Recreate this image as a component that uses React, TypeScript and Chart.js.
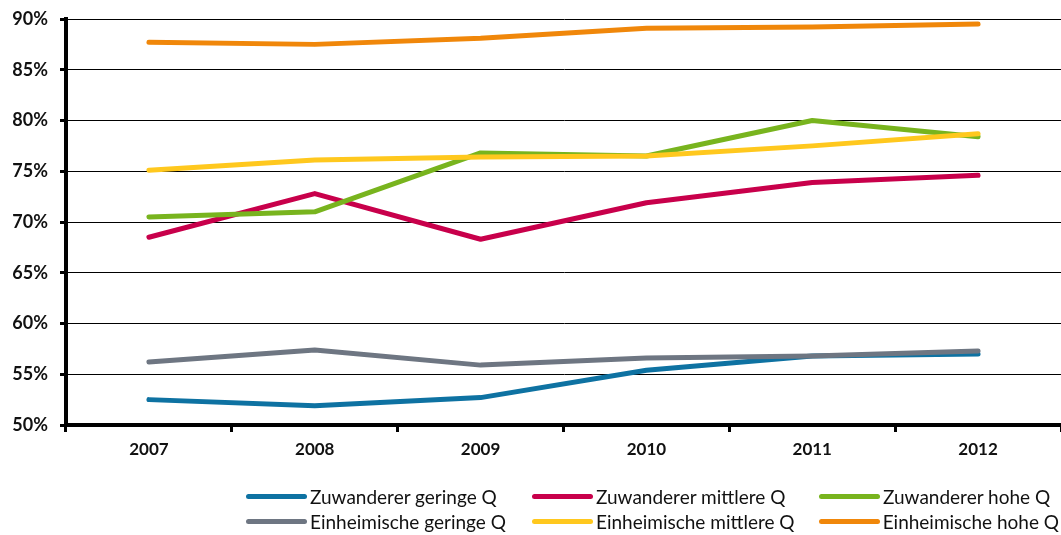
import React, { useEffect, useRef } from "react";
import { Chart, registerables } from "chart.js";

Chart.register(...registerables);

const categories = ["2007", "2008", "2009", "2010", "2011", "2012"];
const seriesNames = [
  "Zuwanderer geringe Q",
  "Zuwanderer mittlere Q",
  "Zuwanderer hohe Q",
  "Einheimische geringe Q",
  "Einheimische mittlere Q",
  "Einheimische hohe Q",
];
const zuwGering = [52.5, 51.9, 52.7, 55.4, 56.8, 57.0];
const zuwMittel = [68.5, 72.8, 68.3, 71.9, 73.9, 74.6];
const zuwHoch = [70.5, 71.0, 76.8, 76.5, 80.0, 78.4];
const einGering = [56.2, 57.4, 55.9, 56.6, 56.8, 57.3];
const einMittel = [75.1, 76.1, 76.4, 76.5, 77.5, 78.7];
const einHoch = [87.7, 87.5, 88.1, 89.1, 89.2, 89.5];
const seriesValues = [zuwGering, zuwMittel, zuwHoch, einGering, einMittel, einHoch];
const seriesColors = ["#0e72a2", "#c8004b", "#78b41e", "#6e7682", "#ffc81e", "#f0870a"];
const yTicks = [50, 55, 60, 65, 70, 75, 80, 85, 90];

const FONT = "Lato, 'Open Sans', sans-serif";

export default function App() {
  const canvasRef = useRef<HTMLCanvasElement | null>(null);

  useEffect(() => {
    document.body.style.margin = "0";
    const canvas = canvasRef.current;
    if (!canvas) return;
    const chart = new Chart(canvas, {
      type: "line",
      data: {
        labels: categories,
        datasets: seriesNames.map((name, i) => ({
          label: name,
          data: seriesValues[i],
          borderColor: seriesColors[i],
          backgroundColor: seriesColors[i],
          borderWidth: 5,
          borderCapStyle: "round" as const,
          borderJoinStyle: "round" as const,
          pointRadius: 0,
          pointHoverRadius: 0,
          tension: 0,
          fill: false,
          order: seriesNames.length - i,
        })),
      },
      options: {
        responsive: false,
        animation: false,
        layout: { padding: { top: 19, right: 0, left: 0, bottom: 0 } },
        plugins: {
          legend: { display: false },
          tooltip: { enabled: false },
        },
        scales: {
          x: {
            type: "category",
            offset: true,
            afterFit: (scale: any) => {
              scale.height = 110;
            },
            grid: {
              display: true,
              drawOnChartArea: false,
              offset: true,
              color: "#000",
              lineWidth: 3,
              tickLength: 7,
            },
            border: { display: true, color: "#000", width: 4 },
            ticks: {
              color: "#111",
              padding: 7,
              font: { family: FONT, size: 17, weight: "bold" },
              maxRotation: 0,
            },
          },
          y: {
            min: 50,
            max: 90,
            afterFit: (scale: any) => {
              scale.width = 66;
              scale.paddingTop = 0;
              scale.paddingBottom = 0;
            },
            afterBuildTicks: (scale: any) => {
              scale.ticks = yTicks.map((v) => ({ value: v }));
            },
            grid: {
              color: "#000",
              lineWidth: 1,
              tickLength: 6,
              tickColor: "#000",
              tickWidth: 3,
            },
            border: { display: true, color: "#000", width: 4 },
            ticks: {
              color: "#111",
              padding: 12,
              font: { family: FONT, size: 18, weight: "bold", lineHeight: 1 },
              callback: (v: any) => `${v}%`,
            },
          },
        },
      },
    });
    return () => chart.destroy();
  }, []);

  return (
    <div style={{ position: "relative", width: 1061, height: 535, background: "#fff" }}>
      <canvas ref={canvasRef} width={1061} height={535} style={{ display: "block" }} />
      <div
        style={{
          position: "absolute",
          left: 246,
          top: 484,
          display: "grid",
          gridTemplateColumns: "286px 287px 240px",
          gridAutoRows: "25px",
          fontFamily: FONT,
          fontSize: 19,
          color: "#111",
        }}
      >
        {seriesNames.map((name, i) => (
          <div key={name} style={{ display: "flex", alignItems: "center", whiteSpace: "nowrap" }}>
            <span
              style={{
                display: "inline-block",
                width: 61,
                height: 5,
                borderRadius: 3,
                background: seriesColors[i],
                marginRight: 3,
              }}
            />
            <span>{name}</span>
          </div>
        ))}
      </div>
    </div>
  );
}
